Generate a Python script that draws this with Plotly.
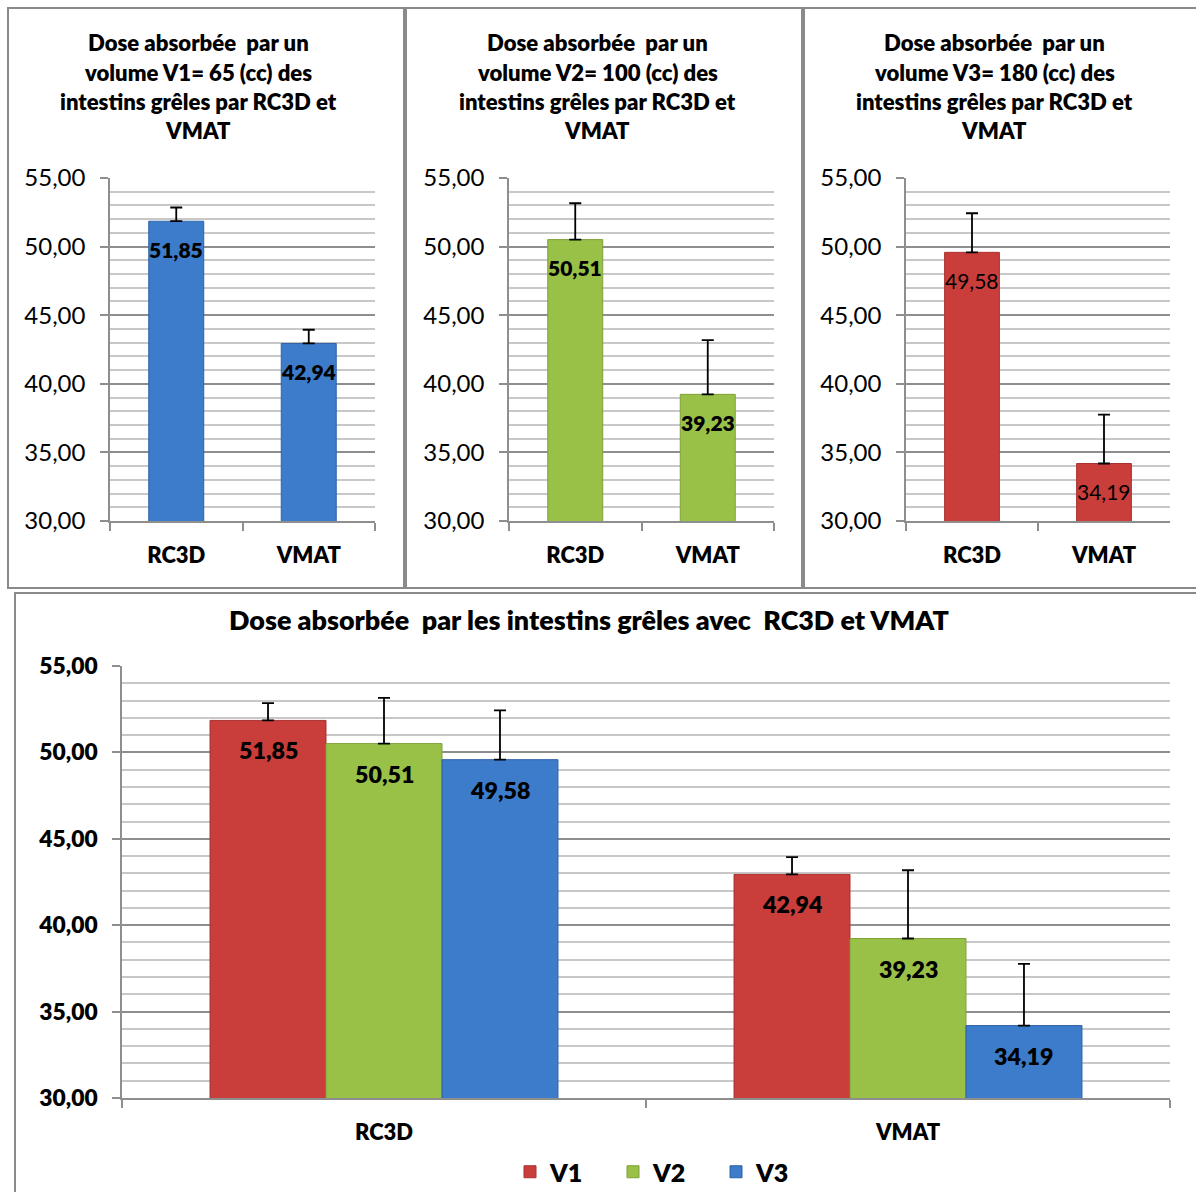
import plotly.graph_objects as go

# ---- data -------------------------------------------------------------
categories = ["RC3D", "VMAT"]
volumes = ["V1", "V2", "V3"]
volume_cc = [65, 100, 180]

v1_dose = [51.85, 42.94]
v2_dose = [50.51, 39.23]
v3_dose = [49.58, 34.19]

v1_err = [1.0, 1.0]
v2_err = [2.65, 3.95]
v3_err = [2.85, 3.57]

y_ticks = [30, 35, 40, 45, 50, 55]
y_range = [30, 55]

# ---- styling ----------------------------------------------------------
W, H = 1196, 1192
FONT = "Lato"
HEAVY = 800
RED, GREEN, BLUE = "#c93d3b", "#99c148", "#3c7cca"
RED_D, GREEN_D, BLUE_D = "#a83230", "#7fa13a", "#2f62a4"
MAJOR, MINOR, FRAME = "#8e8e8e", "#c8c8c8", "#8a8a8a"


def px(x):
    return x / W


def py(y):
    return 1 - y / H


def fmt(v):
    return f"{v:.2f}".replace(".", ",")


fig = go.Figure()

doses = [v1_dose, v2_dose, v3_dose]
errs = [v1_err, v2_err, v3_err]

# top row: one panel per volume
top_colors = [(BLUE, BLUE_D), (GREEN, GREEN_D), (RED, RED_D)]
top_label_weight = [HEAVY, HEAVY, "normal"]
top_plot_x = [(110, 375), (509, 774), (906, 1170)]
top_title_cx = [198, 597, 994]
top_bar_width = 0.415

annotations = []
for i in range(3):
    ax = "" if i == 0 else str(i + 1)
    fill, edge = top_colors[i]
    fig.add_trace(go.Bar(
        x=categories, y=doses[i], width=top_bar_width,
        xaxis="x" + ax, yaxis="y" + ax,
        marker=dict(color=fill, line=dict(color=edge, width=1)),
        error_y=dict(type="data", symmetric=False, array=errs[i],
                     arrayminus=[0, 0], color="black", thickness=1.8, width=6),
        showlegend=False, hoverinfo="skip",
    ))
    for c, val in zip(categories, doses[i]):
        annotations.append(dict(
            x=c, y=val, xref="x" + ax, yref="y" + ax, yshift=-28,
            text=fmt(val), showarrow=False,
            font=dict(family=FONT, size=21, color="black", weight=top_label_weight[i]),
        ))
    title_lines = [
        "Dose absorbée  par un",
        f"volume {volumes[i]}= {volume_cc[i]} (cc) des",
        "intestins grêles par RC3D et",
        "VMAT",
    ]
    for k, line in enumerate(title_lines):
        annotations.append(dict(
            x=px(top_title_cx[i]), y=py(43 + k * 29.3), xref="paper", yref="paper",
            text=line, showarrow=False, xanchor="center", yanchor="middle",
            font=dict(family=FONT, size=22.1, color="black", weight=HEAVY),
        ))

# bottom: grouped comparison of all volumes
bottom_colors = [(RED, RED_D), (GREEN, GREEN_D), (BLUE, BLUE_D)]
bargap_bottom = 0.336
bar_w = (1 - bargap_bottom) / 3
for j in range(3):
    fill, edge = bottom_colors[j]
    fig.add_trace(go.Bar(
        x=categories, y=doses[j], name=volumes[j],
        xaxis="x4", yaxis="y4",
        marker=dict(color=fill, line=dict(color=edge, width=1)),
        error_y=dict(type="data", symmetric=False, array=errs[j],
                     arrayminus=[0, 0], color="black", thickness=1.8, width=6),
        hoverinfo="skip",
    ))
    for ci, val in enumerate(doses[j]):
        annotations.append(dict(
            x=ci + (j - 1) * bar_w, y=val, xref="x4", yref="y4", yshift=-30,
            text=fmt(val), showarrow=False,
            font=dict(family=FONT, size=23.2, color="black", weight=HEAVY),
        ))

annotations.append(dict(
    x=px(589), y=py(619), xref="paper", yref="paper",
    text="Dose absorbée  par les intestins grêles avec  RC3D et VMAT",
    showarrow=False, xanchor="center", yanchor="middle",
    font=dict(family=FONT, size=26.9, color="black", weight=HEAVY),
))


def yaxis_style(domain, anchor, weight, size):
    return dict(
        domain=domain, anchor=anchor, range=y_range, tickvals=y_ticks,
        tickformat=".2f", showline=True, linecolor=MAJOR, linewidth=1.5,
        showgrid=True, gridcolor=MAJOR, gridwidth=1.5,
        ticks="outside", ticklen=8, tickcolor=MAJOR, tickwidth=1.5,
        ticklabelstandoff=10, zeroline=False,
        minor=dict(dtick=1, showgrid=True, gridcolor=MINOR, gridwidth=1.5, ticks=""),
        tickfont=dict(family=FONT, size=size, color="black", weight=weight),
        fixedrange=True,
    )


def xaxis_style(domain, anchor, size):
    return dict(
        domain=domain, anchor=anchor, showline=True, linecolor=MAJOR, linewidth=1.5,
        ticks="outside", tickson="boundaries", ticklen=8, tickcolor=MAJOR, tickwidth=1.5,
        ticklabelstandoff=14, showgrid=False,
        tickfont=dict(family=FONT, size=size, color="black", weight=HEAVY),
        fixedrange=True,
    )


layout = dict(
    width=W, height=H, margin=dict(l=0, r=0, t=0, b=0, autoexpand=False),
    paper_bgcolor="white", plot_bgcolor="white",
    separators=",.", barmode="group", bargap=bargap_bottom, bargroupgap=0,
    font=dict(family=FONT, color="black"),
    annotations=annotations,
    showlegend=True,
    legend=dict(orientation="h", x=px(510), y=py(1172), xanchor="left",
                yanchor="middle", entrywidth=58, entrywidthmode="pixels",
                font=dict(family=FONT, size=25, weight=HEAVY),
                bgcolor="rgba(0,0,0,0)"),
)

top_ydom = [py(521), py(178)]
for i in range(3):
    ax = "" if i == 0 else str(i + 1)
    x0, x1 = top_plot_x[i]
    layout["xaxis" + ax] = xaxis_style([px(x0), px(x1)], "y" + ax, 22)
    layout["yaxis" + ax] = yaxis_style(top_ydom, "x" + ax, "normal", 24)

layout["xaxis4"] = xaxis_style([px(122), px(1170)], "y4", 22)
layout["yaxis4"] = yaxis_style([py(1098), py(666)], "x4", HEAVY, 22.8)

fig.update_layout(**layout)

# panel frames
frames = [(8, 8, 404, 588), (406, 8, 802, 588), (804, 8, 1210, 588), (15, 593, 1210, 1210)]
for x0, y0, x1, y1 in frames:
    fig.add_shape(type="rect", xref="paper", yref="paper",
                  x0=px(x0), x1=px(x1), y0=py(y1), y1=py(y0),
                  line=dict(color=FRAME, width=2), fillcolor="rgba(0,0,0,0)", layer="below")

fig.write_html("out.html")
